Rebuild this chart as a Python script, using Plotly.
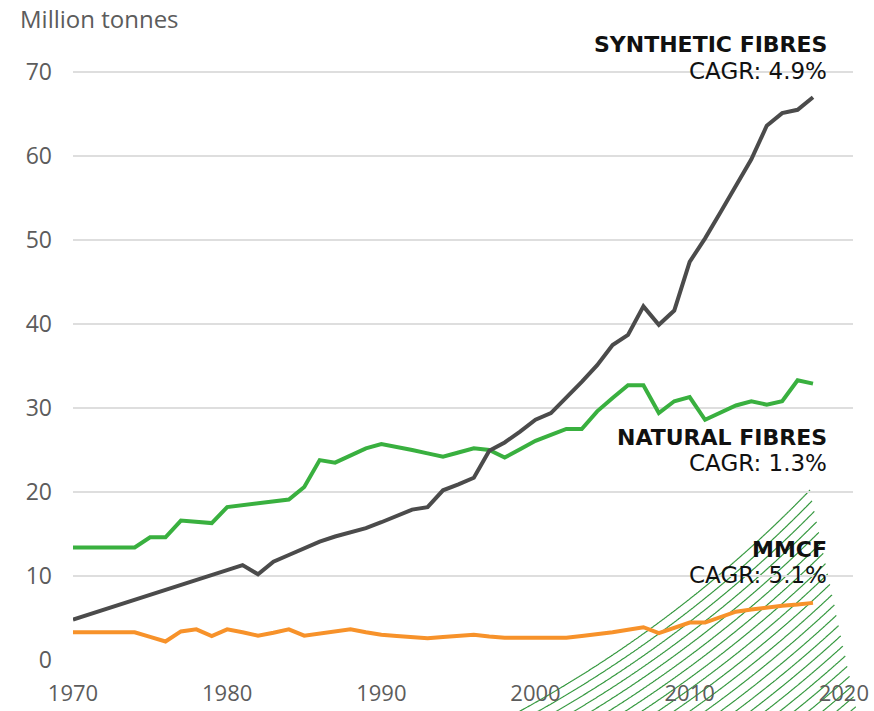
import numpy as np
import plotly.graph_objects as go

# ---------------- data (million tonnes) ----------------
years = list(range(1970, 2019))
synthetic = [4.8, 5.4, 6.0, 6.6, 7.2, 7.8, 8.3, 8.9, 9.5, 10.1,
             10.7, 11.3, 10.2, 11.7, 12.5, 13.3, 14.1, 14.7, 15.2, 15.7,
             16.4, 17.2, 17.9, 18.2, 20.2, 20.9, 21.7, 24.9, 25.9, 27.2,
             28.6, 29.4, 31.2, 33.1, 35.1, 37.5, 38.7, 42.1, 39.9, 41.6,
             47.4, 50.2, 53.3, 56.4, 59.6, 63.6, 65.1, 65.5, 67.0]
natural = [13.4, 13.4, 13.4, 13.4, 13.4, 14.6, 14.6, 16.6, 16.45, 16.3,
           18.2, 18.4, 18.6, 18.8, 19.1, 20.6, 23.8, 23.5, 24.3, 25.2,
           25.7, 25.4, 25.0, 24.6, 24.2, 24.7, 25.2, 25.0, 24.1, 25.1,
           26.1, 26.8, 27.5, 27.5, 29.6, 31.2, 32.7, 32.7, 29.4, 30.8,
           31.3, 28.6, 29.5, 30.3, 30.8, 30.4, 30.8, 33.3, 32.9]
mmcf = [3.3, 3.3, 3.3, 3.3, 3.3, 2.75, 2.2, 3.4, 3.65, 2.85,
        3.65, 3.3, 2.9, 3.25, 3.65, 2.9, 3.15, 3.4, 3.65, 3.3,
        3.0, 2.85, 2.7, 2.6, 2.75, 2.9, 3.0, 2.8, 2.65, 2.65,
        2.65, 2.65, 2.65, 2.85, 3.05, 3.3, 3.6, 3.9, 3.2, 3.8,
        4.45, 4.45, 5.1, 5.75, 6.0, 6.25, 6.45, 6.6, 6.8]

y_ticks = [0, 10, 20, 30, 40, 50, 60, 70]
x_ticks = [1970, 1980, 1990, 2000, 2010, 2020]

series_names = ["Synthetic fibres", "Natural fibres", "MMCF"]
label_titles = ["SYNTHETIC FIBRES", "NATURAL FIBRES", "MMCF"]
label_cagr = ["CAGR: 4.9%", "CAGR: 1.3%", "CAGR: 5.1%"]

# ---------------- styling ----------------
COL_SYN = "#4b4b4b"
COL_NAT = "#39b03f"
COL_MMCF = "#f7922a"
COL_HATCH = "#35983f"
GRID = "#dedede"
TICK_COL = "#5c5c5c"

W, H = 874, 711
ML, MR, MT, MB = 73, 21, 30, 50
PW, PH = W - ML - MR, H - MT - MB

x_range = [1970, 1970 + PW * 48 / 740]
y_px_per_unit = 8.4
y_range = [-(1 / y_px_per_unit), (660 - MT) / y_px_per_unit]


def to_paper(px, py):
    return (px - ML) / PW, (H - MB - py) / PH


fig = go.Figure()

for name, vals, col in [(series_names[1], natural, COL_NAT),
                        (series_names[0], synthetic, COL_SYN),
                        (series_names[2], mmcf, COL_MMCF)]:
    fig.add_trace(go.Scatter(
        x=years, y=vals, mode="lines", name=name,
        line=dict(color=col, width=4, shape="linear"),
        cliponaxis=False, hoverinfo="x+y+name",
    ))

# ---------------- decorative hatch (concentric arcs) ----------------
cx, cy = -56.8, -346.6
r0, dr, n_arcs = 1204.7, 9.0, 23
theta = np.linspace(0.55, 1.35, 2000)
shapes = []
for k in range(n_arcs):
    r = r0 + k * dr
    xs = cx + r * np.cos(theta)
    ys = cy + r * np.sin(theta)
    clip_x = 810 + (ys - 490) * (47 / 221)
    m = (ys <= H + 2) & (xs <= clip_x) & (ys >= 470)
    if m.sum() < 2:
        continue
    pts = [to_paper(a, b) for a, b in zip(xs[m], ys[m])]
    path = "M " + " L ".join(f"{a:.4f},{b:.4f}" for a, b in pts)
    shapes.append(dict(type="path", path=path, xref="paper", yref="paper",
                       line=dict(color=COL_HATCH, width=1.2), layer="between"))

# ---------------- annotations ----------------
ann = []
px_, py_ = to_paper(18, 18)
ann.append(dict(text="Million tonnes", x=px_, y=py_, xref="paper", yref="paper",
                xanchor="left", yanchor="middle", showarrow=False,
                font=dict(family="Open Sans", size=24, color=TICK_COL)))

title_centers = [44, 437, 549]
cagr_centers = [71, 463, 575]
for title, cagr, yt, yc in zip(label_titles, label_cagr, title_centers, cagr_centers):
    ax, ay = to_paper(829, yt)
    ann.append(dict(text=f"<b>{title}</b>", x=ax, y=ay,
                    xref="paper", yref="paper", xanchor="right", yanchor="middle",
                    align="right", showarrow=False,
                    font=dict(family="DejaVu Sans", size=22, color="#111111")))
    ax, ay = to_paper(829, yc)
    ann.append(dict(text=cagr, x=ax, y=ay,
                    xref="paper", yref="paper", xanchor="right", yanchor="middle",
                    align="right", showarrow=False,
                    font=dict(family="DejaVu Sans", size=23, color="#111111")))

fig.update_layout(
    width=W, height=H, autosize=False,
    margin=dict(l=ML, r=MR, t=MT, b=MB, pad=0, autoexpand=False),
    paper_bgcolor="white", plot_bgcolor="white",
    showlegend=False,
    shapes=shapes, annotations=ann,
    font=dict(family="Open Sans", color=TICK_COL),
)
fig.update_xaxes(
    range=x_range, tickmode="array", tickvals=x_ticks,
    ticktext=[str(t) for t in x_ticks], automargin=False,
    showgrid=False, zeroline=False, showline=False, ticks="",
    tickfont=dict(family="Open Sans", size=22, color=TICK_COL),
    ticklabelstandoff=17,
)
fig.update_yaxes(
    range=y_range, tickmode="array", tickvals=y_ticks,
    ticktext=[str(t) for t in y_ticks], automargin=False,
    showgrid=True, gridcolor=GRID, gridwidth=1.5,
    zeroline=False, showline=False, ticks="",
    tickfont=dict(family="Open Sans", size=23, color=TICK_COL),
    ticklabelstandoff=20,
)

fig.write_html(
    "out.html",
    config={"displayModeBar": False},
    post_script="document.body.style.margin='0';document.body.style.padding='0';",
)
